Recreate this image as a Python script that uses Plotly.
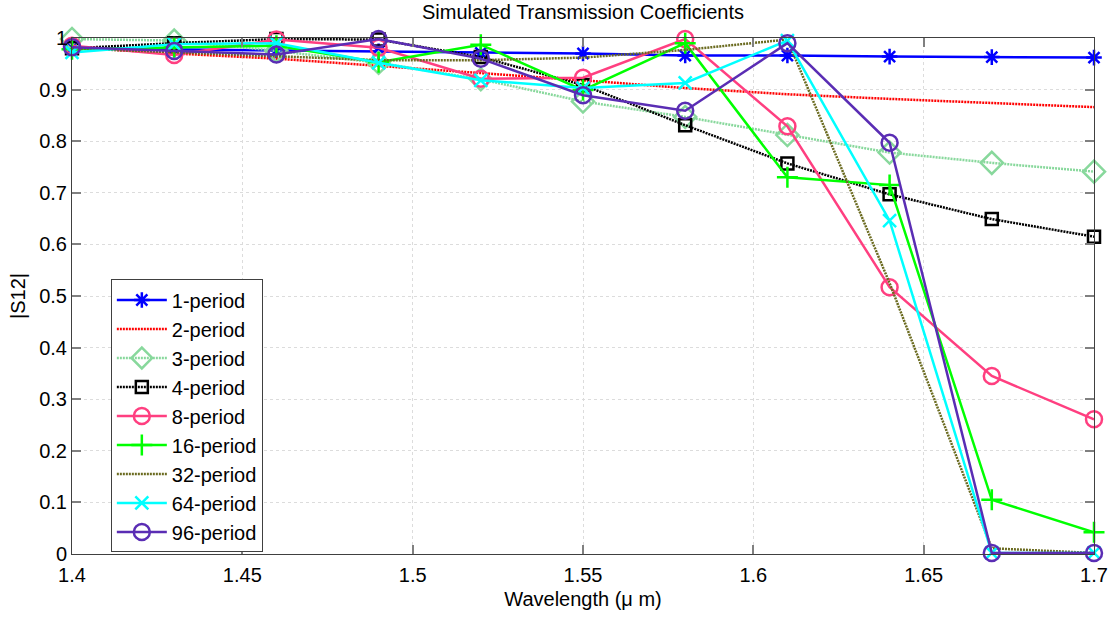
import plotly.graph_objects as go

# Wavelength samples (µm)
wavelength = [1.40, 1.43, 1.46, 1.49, 1.52, 1.55, 1.58, 1.61, 1.64, 1.67, 1.70]

# |S12| for each number of periods
s12_p1 = [0.980, 0.978, 0.976, 0.974, 0.971, 0.970, 0.966, 0.966, 0.964, 0.963, 0.962]
s12_p2 = [0.982, 0.970, 0.960, 0.946, 0.933, 0.918, 0.903, 0.891, 0.882, 0.874, 0.866]
s12_p3 = [0.998, 0.995, 0.975, 0.952, 0.920, 0.877, 0.847, 0.812, 0.778, 0.758, 0.741]
s12_p4 = [0.980, 0.990, 0.998, 0.997, 0.963, 0.909, 0.831, 0.757, 0.697, 0.649, 0.615]
s12_p8 = [0.985, 0.967, 0.997, 0.981, 0.921, 0.923, 0.998, 0.829, 0.517, 0.345, 0.261]
s12_p16 = [0.978, 0.982, 0.985, 0.953, 0.987, 0.899, 0.990, 0.730, 0.715, 0.105, 0.042]
s12_p32 = [0.980, 0.972, 0.964, 0.957, 0.957, 0.962, 0.977, 0.997, 0.525, 0.011, 0.002]
s12_p64 = [0.972, 0.988, 0.990, 0.952, 0.918, 0.903, 0.913, 0.995, 0.646, 0.002, 0.002]
s12_p96 = [0.982, 0.975, 0.968, 0.998, 0.960, 0.889, 0.859, 0.990, 0.797, 0.002, 0.002]

series_names = ["1-period", "2-period", "3-period", "4-period", "8-period",
                "16-period", "32-period", "64-period", "96-period"]
series_values = [s12_p1, s12_p2, s12_p3, s12_p4, s12_p8,
                 s12_p16, s12_p32, s12_p64, s12_p96]

# Line / marker styling per series
styles = [
    dict(color="#0000FF", dash="solid", symbol="asterisk-open", size=13, width=2.5),
    dict(color="#FF0000", dash="2px,1px", symbol=None, size=0, width=2.5),
    dict(color="#88D89C", dash="2px,1px", symbol="diamond-open", size=17, width=2.5),
    dict(color="#000000", dash="2px,1px", symbol="square-open", size=12, width=2.5),
    dict(color="#FF3F80", dash="solid", symbol="circle-open", size=16, width=2.5),
    dict(color="#00FF00", dash="solid", symbol="cross-thin-open", size=15, width=2.5),
    dict(color="#6B6B20", dash="2px,1px", symbol=None, size=0, width=2.5),
    dict(color="#00FFFF", dash="solid", symbol="x-thin-open", size=13, width=2.5),
    dict(color="#5A2DB4", dash="solid", symbol="circle-open", size=16, width=2.5),
]

fig = go.Figure()
for name, vals, st in zip(series_names, series_values, styles):
    mode = "lines+markers" if st["symbol"] else "lines"
    marker = dict(symbol=st["symbol"], size=st["size"], color=st["color"],
                  line=dict(color=st["color"], width=2.5)) if st["symbol"] else None
    fig.add_trace(go.Scatter(
        x=wavelength, y=vals, name=name, mode=mode, legendgroup=name,
        line=dict(color=st["color"], width=st["width"], dash=st["dash"]),
        marker=marker, cliponaxis=False,
    ))

font_family = "Liberation Sans, Arial, sans-serif"

fig.update_layout(
    width=1120, height=618,
    margin=dict(l=72, r=21, t=38, b=64),
    paper_bgcolor="white", plot_bgcolor="white",
    font=dict(family=font_family, size=20, color="black"),
    title=dict(text="Simulated Transmission Coefficients", x=0.5, xref="paper",
               y=0.981, yref="container", xanchor="center", yanchor="middle",
               font=dict(size=20, color="black")),
    legend=dict(x=0.038, y=0.532, xanchor="left", yanchor="top",
                bgcolor="white", bordercolor="#404040", borderwidth=1,
                font=dict(size=20, color="black"), tracegroupgap=1,
                traceorder="normal", itemwidth=50),
    showlegend=True,
)

fig.update_xaxes(
    range=[1.4, 1.7], dtick=0.05, tick0=1.4,
    title=dict(text="Wavelength (\u03bc m)", font=dict(size=20), standoff=6),
    showline=True, linecolor="#404040", linewidth=1, mirror="ticks",
    ticks="inside", ticklen=9, tickcolor="#808080", tickwidth=1.5,
    ticklabelstandoff=3,
    showgrid=True, gridcolor="#dcdcdc", griddash="dot", gridwidth=1,
    zeroline=False, tickfont=dict(size=20),
)
fig.update_yaxes(
    range=[0, 1], dtick=0.1, tick0=0,
    title=dict(text="|S12|", font=dict(size=20), standoff=8),
    showline=True, linecolor="#404040", linewidth=1, mirror="ticks",
    ticks="inside", ticklen=9, tickcolor="#808080", tickwidth=1.5,
    showgrid=True, gridcolor="#dcdcdc", griddash="dot", gridwidth=1,
    zeroline=False, tickfont=dict(size=20),
)

fig.write_html("out.html")
